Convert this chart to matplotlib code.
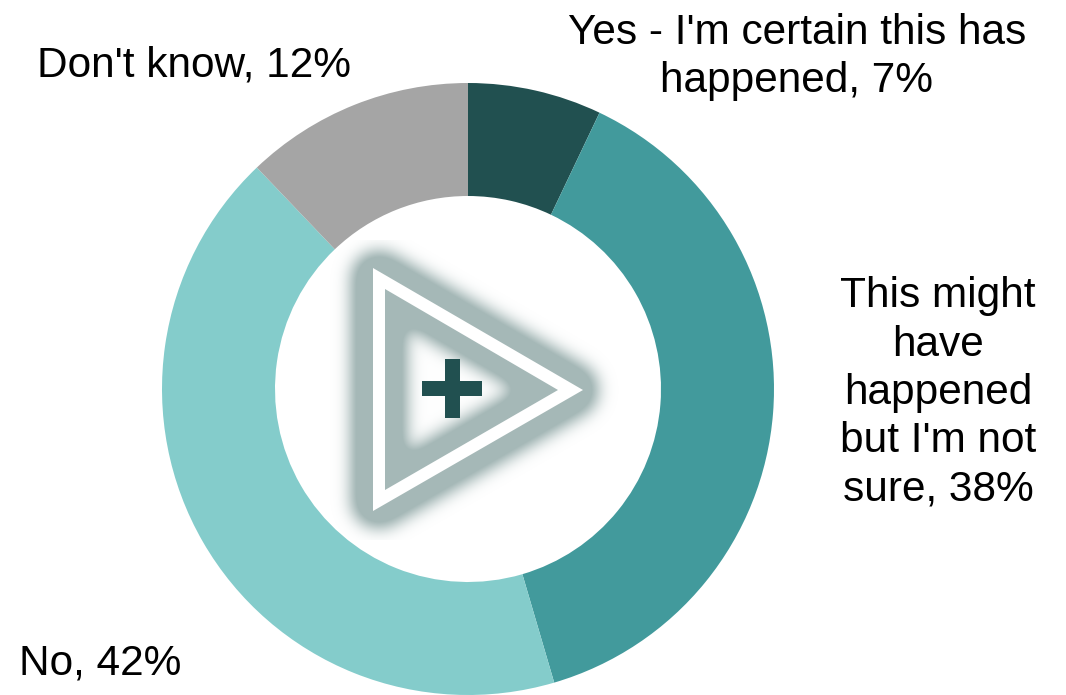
import numpy as np
import matplotlib
matplotlib.use('Agg')
import matplotlib.pyplot as plt
from matplotlib.patches import Polygon, Rectangle

W, H = 1066, 695

labels = ["Yes - I'm certain this has\nhappened, 7%",
          "This might\nhave\nhappened\nbut I'm not\nsure, 38%",
          "No, 42%",
          "Don't know, 12%"]
values = [7, 38, 42, 12]
colors = ['#215050', '#429A9C', '#84CCCB', '#A5A5A5']
label_pos = [(797, 57), (938, 393), (100, 663), (194, 66)]

plt.rcParams['font.family'] = ['Liberation Sans', 'DejaVu Sans']

fig = plt.figure(figsize=(W / 100, H / 100), dpi=100)
ax = fig.add_axes([0, 0, 1, 1])

# donut
ax.pie(values, colors=colors, startangle=90, counterclock=False,
       center=(468, H - 389), radius=306, frame=True,
       wedgeprops=dict(width=113, linewidth=0))
ax.axis('off')

for text, (x, y) in zip(labels, label_pos):
    ax.text(x, H - y, text, fontsize=30.5, ha='center', va='center',
            linespacing=1.27, color='black')

# soft glow around the triangle: thick band along its centre line, then blurred
tri = np.array([[379, H - 278.5], [570.5, H - 390], [379, H - 500.5]])
xx, yy = np.meshgrid(np.arange(320, 620) + 0.5, np.arange(H - 540, H - 240) + 0.5)
dist = np.full(xx.shape, np.inf)
for a, b in zip(tri, np.roll(tri, -1, axis=0)):
    ab = b - a
    t = ((xx - a[0]) * ab[0] + (yy - a[1]) * ab[1]) / (ab @ ab)
    t = np.clip(t, 0, 1)
    dist = np.minimum(dist, np.hypot(xx - a[0] - t * ab[0], yy - a[1] - t * ab[1]))
band = (dist < 28).astype(float)
kx = np.arange(-24, 25)
kernel = np.exp(-kx ** 2 / (2 * 8.0 ** 2))
kernel /= kernel.sum()
blur = np.apply_along_axis(lambda r: np.convolve(r, kernel, mode='same'), 0, band)
blur = np.apply_along_axis(lambda r: np.convolve(r, kernel, mode='same'), 1, blur)
alpha = np.clip(blur * 1.35, 0, 1)
glow = np.zeros(xx.shape + (4,))
glow[..., :3] = matplotlib.colors.to_rgb('#A5B8B7')
glow[..., 3] = alpha
ax.imshow(glow, extent=(320, 620, H - 540, H - 240), origin='lower',
          interpolation='bilinear', aspect='auto', zorder=3)

# white triangle outline
outer = [(373, H - 268), (583, H - 390), (373, H - 511)]
inner = [(385, H - 289), (558, H - 390), (385, H - 490)]
ax.add_patch(Polygon(outer, closed=True, fc='white', ec='none', zorder=4))
ax.add_patch(Polygon(inner, closed=True, fc='#A5B8B7', ec='none', zorder=4.1))

# inner part of the triangle fades back to white
inside = np.zeros(xx.shape + (4,))
inside[..., :3] = 1
inside[..., 3] = 1 - alpha
clip = Polygon(inner, closed=True, transform=ax.transData)
im = ax.imshow(inside, extent=(320, 620, H - 540, H - 240), origin='lower',
               interpolation='bilinear', aspect='auto', zorder=4.2)
im.set_clip_path(clip)

# plus sign
ax.add_patch(Rectangle((422, H - 396), 60, 15, fc='#215050', ec='none', zorder=5))
ax.add_patch(Rectangle((444.5, H - 418), 15, 59, fc='#215050', ec='none', zorder=5))

ax.set_xlim(0, W)
ax.set_ylim(0, H)

fig.savefig('out.png', dpi=100, facecolor='white')
